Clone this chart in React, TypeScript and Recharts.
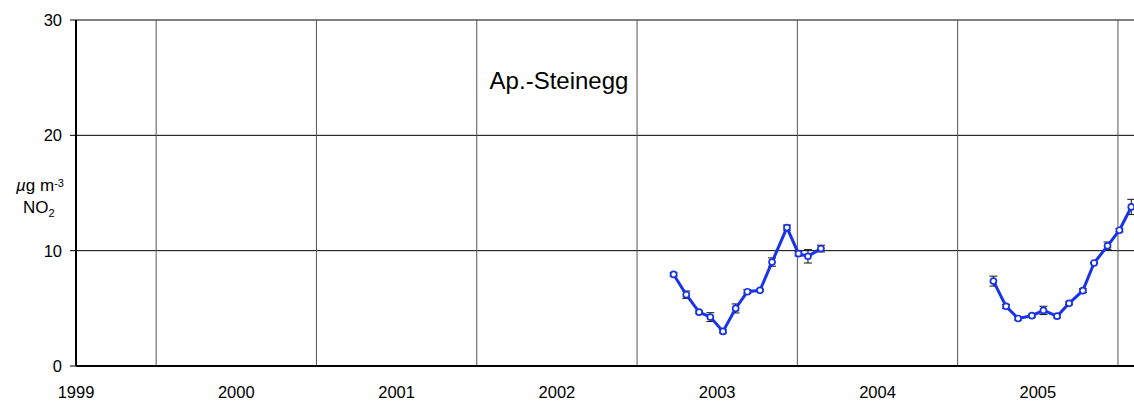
import React from 'react';
import { LineChart, Line, XAxis, YAxis, CartesianGrid, ReferenceLine, ErrorBar } from 'recharts';

// Season 1 (2003)
const season1T = [2003.228, 2003.307, 2003.387, 2003.457, 2003.536, 2003.615, 2003.688, 2003.767, 2003.842, 2003.935, 2004.007, 2004.066, 2004.147];
const season1V = [7.94, 6.18, 4.67, 4.24, 3.0, 4.99, 6.44, 6.56, 9.01, 12.0, 9.74, 9.51, 10.18];
const season1E = [0.13, 0.32, 0.1, 0.38, 0.13, 0.39, 0.17, 0.1, 0.36, 0.22, 0.2, 0.58, 0.29];

// Season 2 (2005)
const season2T = [2005.223, 2005.302, 2005.377, 2005.463, 2005.535, 2005.62, 2005.695, 2005.781, 2005.851, 2005.935, 2006.009, 2006.083];
const season2V = [7.36, 5.17, 4.12, 4.36, 4.82, 4.32, 5.43, 6.53, 8.93, 10.42, 11.77, 13.79];
const season2E = [0.43, 0.17, 0.14, 0.12, 0.36, 0.14, 0.12, 0.16, 0.06, 0.33, 0.14, 0.66];

const yearTicks = [1999.5, 2000.5, 2001.5, 2002.5, 2003.5, 2004.5, 2005.5];
const yearLabels = ['1999', '2000', '2001', '2002', '2003', '2004', '2005'];
const yearBoundaries = [2000, 2001, 2002, 2003, 2004, 2005, 2006];
const valueTicks = [0, 10, 20, 30];

const data1 = season1T.map((t, i) => ({ t, v: season1V[i], e: season1E[i] }));
const data2 = season2T.map((t, i) => ({ t, v: season2V[i], e: season2E[i] }));

const BLUE = '#1833e8';
const FONT = '"Liberation Sans", Arial, Helvetica, sans-serif';

export default function App() {
  return (
    <div style={{ position: 'absolute', left: 0, top: 0, width: 1134, height: 403, fontFamily: FONT, background: '#fff' }}>
      <LineChart width={1134} height={403} margin={{ top: 20, right: 0, left: 0, bottom: 0 }}>
        <CartesianGrid vertical={false} stroke="#000" strokeWidth={1} />
        {yearBoundaries.map((b) => (
          <ReferenceLine key={b} x={b} stroke="#555" strokeWidth={1} />
        ))}
        <XAxis
          type="number"
          dataKey="t"
          domain={[1999.5, 2006.1]}
          ticks={yearTicks}
          tickFormatter={(v, i) => yearLabels[i]}
          tickLine={false}
          tickSize={0}
          tickMargin={20}
          height={37}
          axisLine={{ stroke: '#000', strokeWidth: 2 }}
          tick={{ fill: '#000', fontSize: 16.5, fontFamily: FONT }}
          interval={0}
        />
        <YAxis
          type="number"
          domain={[0, 30]}
          ticks={valueTicks}
          width={76}
          tickSize={6}
          tickMargin={8}
          tickLine={{ stroke: '#000', strokeWidth: 1 }}
          axisLine={{ stroke: '#000', strokeWidth: 2 }}
          tick={{ fill: '#000', fontSize: 16.5, fontFamily: FONT }}
          interval={0}
        />
        <Line
          data={data1}
          dataKey="v"
          stroke={BLUE}
          strokeWidth={3}
          dot={{ r: 3, fill: '#fff', stroke: BLUE, strokeWidth: 1.7 }}
          activeDot={false}
          isAnimationActive={false}
        >
          <ErrorBar dataKey="e" width={4} stroke="#111" strokeWidth={1} direction="y" />
        </Line>
        <Line
          data={data2}
          dataKey="v"
          stroke={BLUE}
          strokeWidth={3}
          dot={{ r: 3, fill: '#fff', stroke: BLUE, strokeWidth: 1.7 }}
          activeDot={false}
          isAnimationActive={false}
        >
          <ErrorBar dataKey="e" width={4} stroke="#111" strokeWidth={1} direction="y" />
        </Line>
      </LineChart>
      <svg width={1134} height={403} style={{ position: 'absolute', left: 0, top: 0, pointerEvents: 'none' }}>
        <text x={559} y={89} textAnchor="middle" fontSize={24} fontFamily={FONT} fill="#000">Ap.-Steinegg</text>
        <text x={16} y={191} fontSize={17} fontFamily={FONT} fill="#000">
          <tspan fontStyle="italic">µ</tspan>g m<tspan fontSize={11} dy={-4}>-3</tspan>
        </text>
        <text x={23} y={213} fontSize={17} fontFamily={FONT} fill="#000">
          NO<tspan fontSize={11} dy={4}>2</tspan>
        </text>
      </svg>
    </div>
  );
}
